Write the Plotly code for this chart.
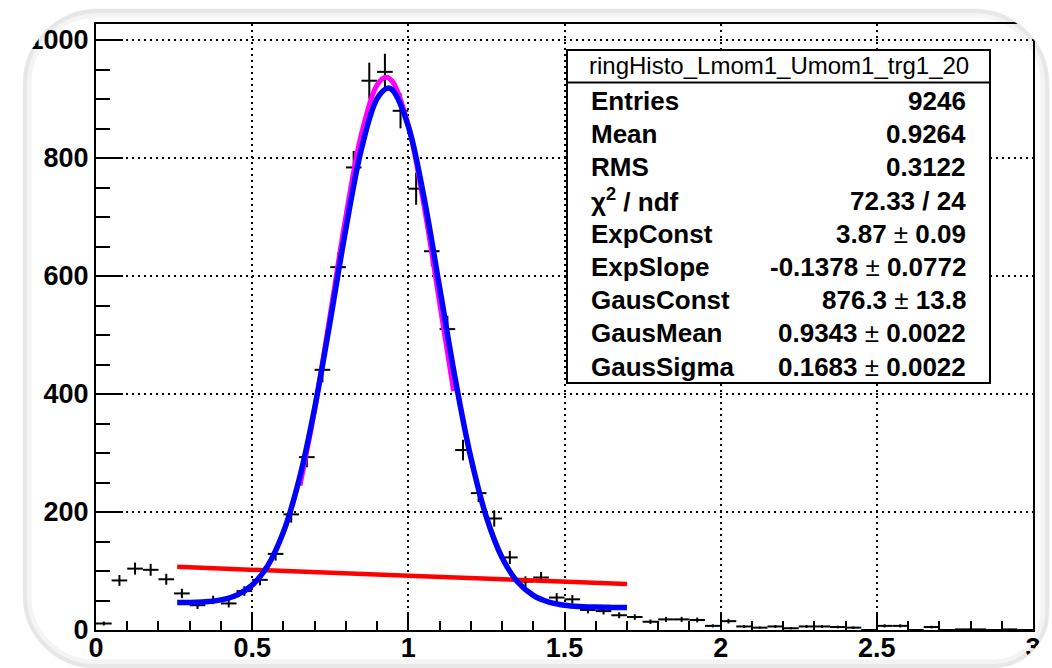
import plotly.graph_objects as go

# ---------------- data ----------------
bin_centers = [0.025, 0.075, 0.125, 0.175, 0.225, 0.275, 0.325, 0.375, 0.425, 0.475,
               0.525, 0.575, 0.625, 0.675, 0.725, 0.775, 0.825, 0.875, 0.925, 0.975,
               1.025, 1.075, 1.125, 1.175, 1.225, 1.275, 1.325, 1.375, 1.425, 1.475,
               1.525, 1.575, 1.625, 1.675, 1.725, 1.775, 1.825, 1.875, 1.925, 1.975,
               2.025, 2.075, 2.125, 2.175, 2.225, 2.275, 2.325, 2.375, 2.425, 2.475,
               2.525, 2.575, 2.625, 2.675, 2.725, 2.775, 2.825, 2.875, 2.925, 2.975]
counts = [11, 84, 104, 102, 86, 62, 42, 51, 45, 66,
          85, 129, 196, 293, 441, 615, 784, 931, 946, 880,
          748, 642, 510, 305, 232, 189, 123, 82, 89, 55,
          52, 34, 32, 25, 22, 14, 18, 18, 17, 7,
          15, 6, 4, 6, 3, 6, 6, 5, 4, 0,
          7, 7, 0, 5, 0, 1, 1, 0, 1, 0]

# total fit (gaus + expo)
blue_x = [0.26, 0.30, 0.35, 0.40, 0.45, 0.50, 0.55, 0.60, 0.65, 0.70, 0.75, 0.80,
          0.85, 0.90, 0.934, 0.95, 1.00, 1.05, 1.10, 1.15, 1.20, 1.25, 1.30, 1.35,
          1.40, 1.45, 1.50, 1.55, 1.60, 1.65, 1.70]
blue_y = [46.5, 46.7, 47.8, 51.0, 59.0, 76.1, 109.1, 166.0, 254.2, 376.0, 524.3, 680.2,
          815.6, 900.6, 918.4, 914.6, 853.8, 733.3, 580.9, 426.3, 292.6, 191.3, 122.8, 81.3,
          58.6, 47.3, 42.1, 39.8, 38.8, 38.3, 38.0]
# gaussian-only pre-fit (magenta)
mag_x = [0.653, 0.70, 0.75, 0.80, 0.85, 0.90, 0.928, 0.95, 1.00, 1.05, 1.10, 1.145]
mag_y = [245, 373, 535, 701, 841, 924, 937, 929, 855, 720, 555, 405]
# exponential pre-fit (red)
red_x = [0.26, 1.00, 1.70]
red_y = [107, 92, 78]

stats_title = "ringHisto_Lmom1_Umom1_trg1_20"
stats_labels = ["Entries", "Mean", "RMS", "χ<sup>2</sup> / ndf", "ExpConst", "ExpSlope",
                "GausConst", "GausMean", "GausSigma"]
stats_values = ["9246", "0.9264", "0.3122", "72.33 / 24", "3.87 ± 0.09", "-0.1378 ± 0.0772",
                "876.3 ± 13.8", "0.9343 ± 0.0022", "0.1683 ± 0.0022"]

x_ticks = [0, 0.5, 1, 1.5, 2, 2.5, 3]
x_ticklabels = ["0", "0.5", "1", "1.5", "2", "2.5", "3"]
y_ticks = [0, 200, 400, 600, 800, 1000]
y_ticklabels = ["0", "200", "400", "600", "800", "1000"]

# ---------------- layout helpers (screen pixel -> paper) ----------------
W, H = 1052, 668
L, T = 96, 24
R = W - 1033
B = H - 630
PW, PH = W - L - R, H - T - B


def px(x):
    return (x - L) / PW


def py(y):
    return (H - B - y) / PH


def rrect(x0, y0, x1, y1, tl, tr, br, bl):
    k = 0.5523

    def p(x, y):
        return f"{px(x):.5f},{py(y):.5f}"
    return (f"M{p(x0 + tl, y0)} L{p(x1 - tr, y0)} "
            f"C{p(x1 - tr + k * tr, y0)} {p(x1, y0 + tr - k * tr)} {p(x1, y0 + tr)} "
            f"L{p(x1, y1 - br)} "
            f"C{p(x1, y1 - br + k * br)} {p(x1 - br + k * br, y1)} {p(x1 - br, y1)} "
            f"L{p(x0 + bl, y1)} "
            f"C{p(x0 + bl - k * bl, y1)} {p(x0, y1 - bl + k * bl)} {p(x0, y1 - bl)} "
            f"L{p(x0, y0 + tl)} "
            f"C{p(x0, y0 + tl - k * tl)} {p(x0 + tl - k * tl, y0)} {p(x0 + tl, y0)} Z")


FONT = "Liberation Sans, Arial, Helvetica, sans-serif"
PM = '<span style="font-weight:normal">±</span>'

fig = go.Figure()

fig.add_trace(go.Scatter(
    x=bin_centers, y=counts, mode="markers",
    marker=dict(size=1, color="black"),
    error_y=dict(type="sqrt", color="black", thickness=2, width=0),
    error_x=dict(type="constant", value=0.025, color="black", thickness=2, width=0),
    showlegend=False, hoverinfo="skip"))

fig.add_trace(go.Scatter(x=red_x, y=red_y, mode="lines",
                         line=dict(color="#ff0000", width=4.5, shape="spline"),
                         showlegend=False))
fig.add_trace(go.Scatter(x=mag_x, y=mag_y, mode="lines",
                         line=dict(color="#ff00ff", width=5, shape="spline"),
                         showlegend=False))
fig.add_trace(go.Scatter(x=blue_x, y=blue_y, mode="lines",
                         line=dict(color="#0000ff", width=5.5, shape="spline"),
                         showlegend=False))

axis_common = dict(
    showline=True, linecolor="black", linewidth=2, mirror=True,
    ticks="inside", tickcolor="black", tickwidth=2,
    showgrid=True, gridcolor="black", gridwidth=1.5, griddash="2px,4px",
    zeroline=False, automargin=False,
    tickfont=dict(family=FONT, size=27, color="black", weight="bold"),
)

fig.update_xaxes(range=[0, 3], tickvals=x_ticks, ticktext=x_ticklabels, ticklen=18,
                 ticklabelstandoff=-7,
                 minor=dict(ticks="inside", ticklen=9, tickwidth=2, tickcolor="black",
                            dtick=0.1, tick0=0, showgrid=False),
                 **axis_common)
fig.update_yaxes(range=[0, PH / 0.59], tickvals=y_ticks, ticktext=y_ticklabels,
                 ticklen=27,
                 minor=dict(ticks="inside", ticklen=13.5, tickwidth=2, tickcolor="black",
                            dtick=50, tick0=0, showgrid=False),
                 **axis_common)

shapes = []
# stats box
bx0, bx1, by0, by1, bsep = 567, 990, 50, 383, 82.5
shapes.append(dict(type="rect", xref="paper", yref="paper", layer="above",
                   x0=px(bx0), x1=px(bx1), y0=py(by1), y1=py(by0),
                   fillcolor="white", line=dict(color="black", width=2)))
shapes.append(dict(type="line", xref="paper", yref="paper", layer="above",
                   x0=px(bx0), x1=px(bx1), y0=py(bsep), y1=py(bsep),
                   line=dict(color="black", width=2)))
# rounded panel mask + soft edge
outer = (f"M{px(-20):.5f},{py(-20):.5f} L{px(1080):.5f},{py(-20):.5f} "
         f"L{px(1080):.5f},{py(700):.5f} L{px(-20):.5f},{py(700):.5f} Z ")
panel = rrect(23, 10, 1049, 667, 75, 75, 56, 72)
shapes.append(dict(type="path", xref="paper", yref="paper", layer="above",
                   path=outer + panel, fillcolor="white", fillrule="evenodd",
                   line=dict(width=0)))
shapes.append(dict(type="path", xref="paper", yref="paper", layer="above",
                   path=rrect(27, 13, 1045, 664, 71, 71, 52, 68),
                   line=dict(color="rgba(0,0,0,0.045)", width=9)))
shapes.append(dict(type="path", xref="paper", yref="paper", layer="above",
                   path=rrect(25, 11, 1047, 666, 73, 73, 54, 70),
                   line=dict(color="rgba(0,0,0,0.05)", width=4)))

annotations = []
annotations.append(dict(xref="paper", yref="paper", x=px((bx0 + bx1) / 2), y=py(66),
                        text=stats_title, showarrow=False, xanchor="center",
                        yanchor="middle",
                        font=dict(family=FONT, size=24, color="black")))
row0, dy = 101, 33.2
for i, (lab, val) in enumerate(zip(stats_labels, stats_values)):
    yy = py(row0 + i * dy)
    annotations.append(dict(xref="paper", yref="paper", x=px(589), y=yy, text=lab,
                            showarrow=False, xanchor="left", yanchor="middle",
                            font=dict(family=FONT, size=26, color="black", weight="bold")))
    annotations.append(dict(xref="paper", yref="paper", x=px(968), y=yy,
                            text=val.replace("±", PM),
                            showarrow=False, xanchor="right", yanchor="middle",
                            font=dict(family=FONT, size=26, color="black", weight="bold")))

fig.update_layout(
    width=W, height=H,
    margin=dict(l=L, r=R, t=T, b=B, pad=0, autoexpand=False),
    paper_bgcolor="white", plot_bgcolor="white",
    shapes=shapes, annotations=annotations,
    showlegend=False,
)

post = """
document.documentElement.style.margin='0';
document.documentElement.style.padding='0';
document.documentElement.style.overflow='hidden';
document.body.style.margin='0';
document.body.style.padding='0';
document.body.style.overflow='hidden';
"""

fig.write_html("out.html", config={"responsive": False, "displayModeBar": False},
               post_script=post)
